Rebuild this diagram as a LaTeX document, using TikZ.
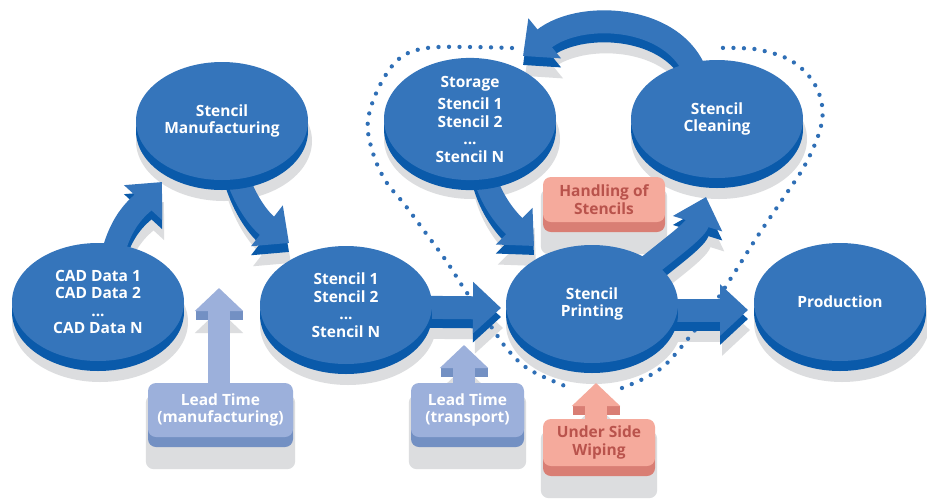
\documentclass[tikz,border=0pt]{standalone}
\usepackage{fontspec}
\setsansfont{Open Sans}
\usetikzlibrary{arrows.meta,shapes.geometric,shadows}
\definecolor{dblue}{HTML}{3575BB}
\definecolor{rimblue}{HTML}{0A5AAA}
\definecolor{sgrey}{HTML}{DCDDDF}
\definecolor{lblue}{HTML}{9CB0DB}
\definecolor{lrim}{HTML}{7390C3}
\definecolor{salm}{HTML}{F5AA9C}
\definecolor{salmrim}{HTML}{D97E74}
\definecolor{salmtext}{HTML}{B9534C}
\definecolor{dotblue}{HTML}{2F6FB6}
\pgfdeclarelayer{shadowl}
\pgfdeclarelayer{dotsl}
\pgfdeclarelayer{darkl}
\pgfdeclarelayer{arrowl}
\pgfsetlayers{shadowl,dotsl,darkl,arrowl,main}
\tikzset{
  txt/.style={font=\sffamily\bfseries\fontsize{15.5}{17.5}\selectfont, align=center},
  disc/.style={txt, ellipse, fill=dblue, text=white, minimum width=172pt, minimum height=118pt, inner sep=0pt, general shadow={fill=rimblue, shadow yshift=-10pt}},
  tagbox/.style={txt, rectangle, rounded corners=8pt, fill=lblue, text=white, inner sep=0pt, general shadow={fill=lrim, shadow yshift=-10pt}},
  salmbox/.style={txt, rectangle, rounded corners=8pt, fill=salm, text=salmtext, inner sep=0pt, general shadow={fill=salmrim, shadow yshift=-10pt}},
  barrow/.style={line width=23pt, -{Triangle[length=28pt,width=50pt]}},
  larrow/.style={line width=22pt, -{Triangle[length=23pt,width=47pt]}},
  dotline/.style={dotblue, line width=4.3pt, line cap=round, dash pattern=on 0pt off 10.5pt},
  boxshadow/.style={sgrey, rounded corners=8pt}
}
\newcommand\bluearr[1]{%
  \begin{pgfonlayer}{shadowl}\draw[barrow,sgrey,transform canvas={shift={(2pt,-20pt)}}] #1;\end{pgfonlayer}
  \begin{pgfonlayer}{darkl}\draw[barrow,rimblue,transform canvas={yshift=-9pt}] #1;\end{pgfonlayer}
  \begin{pgfonlayer}{arrowl}\draw[barrow,dblue] #1;\end{pgfonlayer}}
\newcommand\lightarr[4]{%
  \begin{pgfonlayer}{shadowl}\draw[larrow,sgrey,transform canvas={yshift=-22pt}] (#3) -- (#4);\end{pgfonlayer}
  \begin{pgfonlayer}{darkl}\fill[#2] ([shift={(-23.5,23)}]#4) rectangle ([shift={(23.5,32)}]#4);\end{pgfonlayer}
  \begin{pgfonlayer}{arrowl}\draw[larrow,#1] (#3) -- (#4);\end{pgfonlayer}}
\begin{document}
\begin{tikzpicture}[x=1pt,y=-1pt]
\useasboundingbox (0,0) rectangle (927,499);
\begin{pgfonlayer}{shadowl}
  \fill[white] (0,0) rectangle (927,499);
\end{pgfonlayer}

% discs
\node[disc] (cad) at (98,302) {CAD Data 1\\CAD Data 2\\...\\CAD Data N};
\node[disc] (manu) at (222,121) {Stencil\\Manufacturing};
\node[disc] (slist) at (346,305) {Stencil 1\\Stencil 2\\...\\Stencil N};
\node[disc] (storage) at (470,119) {Storage\\[5pt]Stencil 1\\Stencil 2\\...\\Stencil N};
\node[disc] (clean) at (717,119) {Stencil\\Cleaning};
\node[disc] (print) at (592,304) {Stencil\\Printing};
\node[disc] (prod) at (840,302) {Production};

% boxes
\node[tagbox, minimum width=145pt, minimum height=54pt] (ltm) at (220.5,410) {Lead Time\\(manufacturing)};
\node[tagbox, minimum width=113pt, minimum height=54pt] (ltt) at (467.5,410) {Lead Time\\(transport)};
\node[salmbox, minimum width=112pt, minimum height=47pt] (usw) at (599,442.5) {Under Side\\Wiping};
\node[salmbox, minimum width=122pt, minimum height=45pt] (hos) at (604,199.5) {Handling of\\Stencils};

\begin{pgfonlayer}{shadowl}
  \foreach \n in {cad,manu,slist,storage,clean,print,prod}
    \fill[sgrey] ([shift={(2,20)}]\n.center) ellipse [x radius=88pt, y radius=60pt];
  \foreach \n in {ltm,ltt,usw,hos}
    \fill[boxshadow] ([shift={(-2,12)}]\n.north west) rectangle ([shift={(2,32)}]\n.south east);
\end{pgfonlayer}

% dotted loop
\begin{pgfonlayer}{dotsl}
  \draw[dotline] plot[smooth, tension=0.6] coordinates {(512,48) (470,47) (427,48) (400,58) (380,85) (368,120) (372,150) (385,180) (405,205) (425,232) (447,262) (465,290) (490,325) (508,350) (530,370) (570,388)};
  \draw[dotline] plot[smooth, tension=0.6] coordinates {(622,388) (645,378) (665,365) (687,340) (710,310) (733,275) (757,237) (782,200) (805,165) (820,130) (822,105) (812,80) (790,60) (760,50) (737,48) (717,48)};
\end{pgfonlayer}

% arrow tips
\coordinate (a1tip) at (162,182);
\coordinate (a2tip) at (289,243);
\coordinate (a3tip) at (501,308);
\coordinate (a4tip) at (748,310);
\coordinate (a5tip) at (706,197);
\coordinate (a6tip) at (523,56);
\coordinate (a7tip) at (534,246);

\bluearr{([shift={(10,-10)}]cad.center) .. controls (110,225) and (140,206) .. (a1tip)}
\bluearr{([shift={(8,29)}]manu.center) .. controls (240,200) and (262,222) .. (a2tip)}
\bluearr{([shift={(40,2)}]slist.center) -- (a3tip)}
\bluearr{([shift={(30,6)}]print.center) -- (a4tip)}
\bluearr{([shift={(28,-14)}]print.center) .. controls (660,255) and (695,232) .. (a5tip)}
\bluearr{([shift={(-17,-29)}]clean.center) .. controls (690,15) and (582,8) .. (a6tip)}
\bluearr{([shift={(10,31)}]storage.center) .. controls (483,195) and (508,220) .. (a7tip)}

% light arrows
\coordinate (ltmtip) at (219,288);
\coordinate (ltttip) at (464,345);
\coordinate (uswtip) at (596,383);
\lightarr{lblue}{lrim}{ltmtip |- ltm.center}{ltmtip}
\lightarr{lblue}{lrim}{ltttip |- ltt.center}{ltttip}
\lightarr{salm}{salmrim}{uswtip |- usw.center}{uswtip}
\end{tikzpicture}
\end{document}
